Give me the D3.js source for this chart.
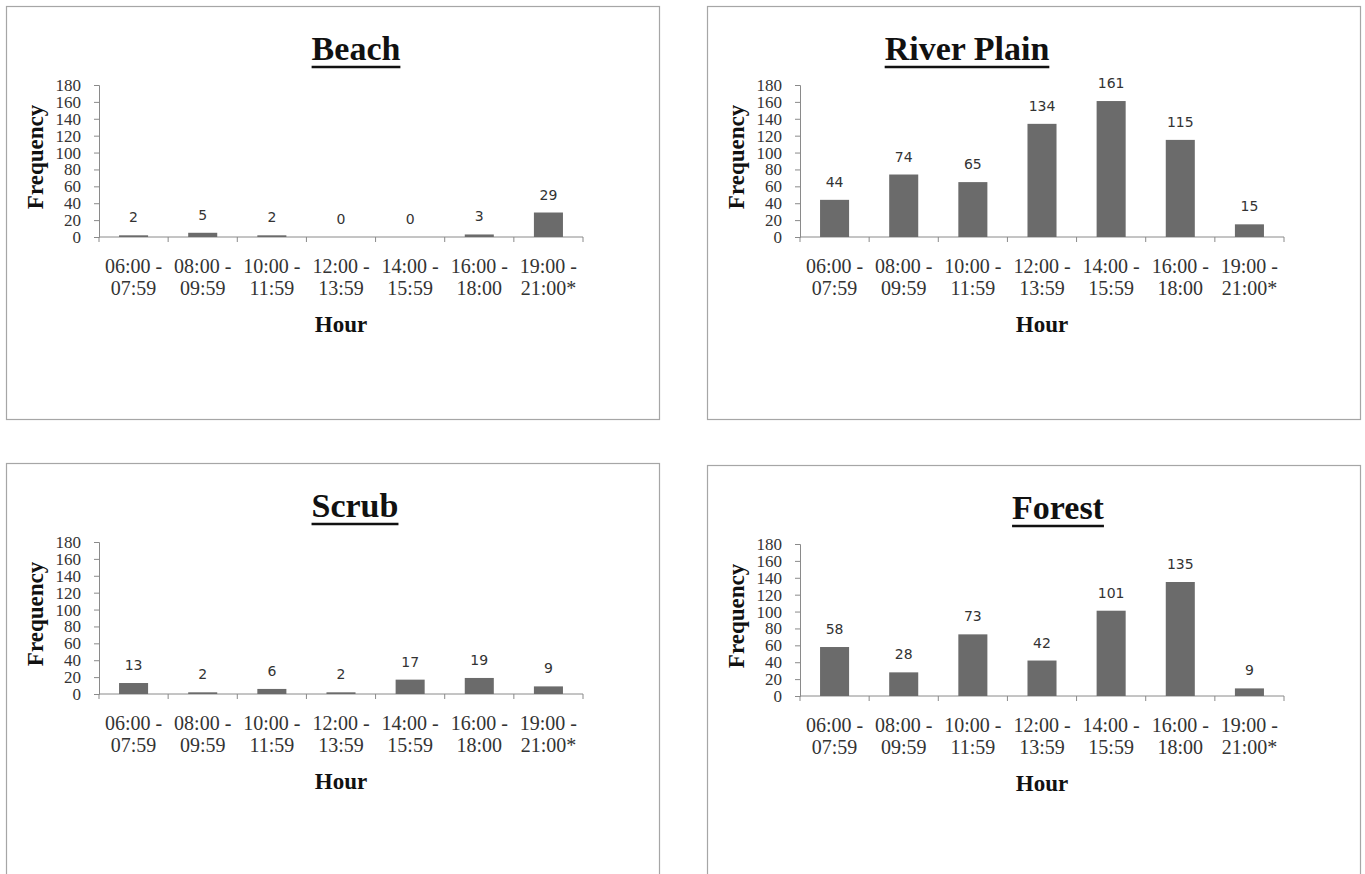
<!DOCTYPE html>
<html>
<head>
<meta charset="utf-8">
<script src="https://cdn.jsdelivr.net/npm/d3@7"></script>
<style>
  html, body { margin: 0; padding: 0; background: #fff; }
  svg { display: block; }
</style>
</head>
<body>
<svg id="chart" width="1365" height="874"></svg>
<script>
// Observation counts per time-of-day slot, by habitat
const hourStart = ["06:00 -", "08:00 -", "10:00 -", "12:00 -", "14:00 -", "16:00 -", "19:00 -"];
const hourEnd   = ["07:59", "09:59", "11:59", "13:59", "15:59", "18:00", "21:00*"];
const habitats  = ["Beach", "River Plain", "Scrub", "Forest"];
const beach      = [2, 5, 2, 0, 0, 3, 29];
const riverPlain = [44, 74, 65, 134, 161, 115, 15];
const scrub      = [13, 2, 6, 2, 17, 19, 9];
const forest     = [58, 28, 73, 42, 101, 135, 9];
const yTicks     = [0, 20, 40, 60, 80, 100, 120, 140, 160, 180];
const yMax = 180;
const xTitle = "Hour";
const yTitle = "Frequency";

const seriesByHabitat = [beach, riverPlain, scrub, forest];

// Panel frames (top-left corners) and title centres within each frame
const panels = [
  { x: 6,   y: 6,   titleX: 350 },
  { x: 707, y: 6,   titleX: 260 },
  { x: 6,   y: 463, titleX: 349 },
  { x: 707, y: 465, titleX: 351 }
];
const panelW = 653, panelH = 413;
const plotLeft = 93, plotBottom = 231, plotTop = 79, plotW = 484;

const serif = "'Liberation Serif', 'Times New Roman', serif";
const sans = "'DejaVu Sans', Verdana, sans-serif";
const axisColor = "#8a8a8a";
const barColor = "#6b6b6b";
const textColor = "#333";

const svg = d3.select("#chart");

habitats.forEach((name, i) => {
  const p = panels[i];
  const values = seriesByHabitat[i];
  const g = svg.append("g").attr("transform", `translate(${p.x},${p.y})`);

  g.append("rect")
    .attr("x", 0.5).attr("y", 0.5)
    .attr("width", panelW).attr("height", panelH)
    .attr("fill", "#fff")
    .attr("stroke", "#a6a6a6").attr("stroke-width", 1.2);

  // Title with underline
  const title = g.append("text")
    .attr("x", p.titleX).attr("y", 54)
    .attr("text-anchor", "middle")
    .attr("font-family", serif)
    .attr("font-weight", "bold")
    .attr("font-size", 34)
    .attr("fill", "#111")
    .text(name);
  const tw = title.node().getComputedTextLength();
  g.append("line")
    .attr("x1", p.titleX - tw / 2).attr("x2", p.titleX + tw / 2)
    .attr("y1", 61).attr("y2", 61)
    .attr("stroke", "#111").attr("stroke-width", 2.6);

  const plot = g.append("g").attr("transform", `translate(${plotLeft},0)`);

  const x = d3.scaleBand()
    .domain(d3.range(values.length))
    .range([0, plotW])
    .paddingInner(0.58)
    .paddingOuter(0.29);
  const step = x.step();

  const y = d3.scaleLinear().domain([0, yMax]).range([plotBottom, plotTop]);

  // Y axis
  const yAxis = plot.append("g")
    .call(d3.axisLeft(y).tickValues(yTicks).tickSize(5).tickPadding(13));
  yAxis.select(".domain").attr("stroke", axisColor);
  yAxis.selectAll(".tick line").attr("stroke", axisColor);
  yAxis.selectAll(".tick text")
    .attr("font-family", serif)
    .attr("font-size", 17)
    .attr("fill", textColor);

  // X axis baseline with category boundary ticks
  plot.append("line")
    .attr("x1", 0).attr("x2", plotW)
    .attr("y1", plotBottom).attr("y2", plotBottom)
    .attr("stroke", axisColor);
  plot.selectAll("line.xtick")
    .data(d3.range(values.length + 1))
    .join("line")
    .attr("class", "xtick")
    .attr("x1", d => d * step).attr("x2", d => d * step)
    .attr("y1", plotBottom).attr("y2", plotBottom + 5)
    .attr("stroke", axisColor);

  // Bars
  plot.selectAll("rect.bar")
    .data(values)
    .join("rect")
    .attr("class", "bar")
    .attr("x", (d, j) => x(j))
    .attr("width", x.bandwidth())
    .attr("y", d => y(d))
    .attr("height", d => plotBottom - y(d))
    .attr("fill", barColor);

  // Value labels
  plot.selectAll("text.val")
    .data(values)
    .join("text")
    .attr("class", "val")
    .attr("x", (d, j) => x(j) + x.bandwidth() / 2)
    .attr("y", d => y(d) - 13)
    .attr("text-anchor", "middle")
    .attr("font-family", sans)
    .attr("font-size", 14)
    .attr("fill", textColor)
    .text(d => d);

  // Category labels (two lines)
  const cat = plot.selectAll("text.cat")
    .data(d3.range(values.length))
    .join("text")
    .attr("class", "cat")
    .attr("text-anchor", "middle")
    .attr("font-family", serif)
    .attr("font-size", 20)
    .attr("fill", textColor);
  cat.append("tspan")
    .attr("x", j => x(j) + x.bandwidth() / 2)
    .attr("y", plotBottom + 36)
    .text(j => hourStart[j]);
  cat.append("tspan")
    .attr("x", j => x(j) + x.bandwidth() / 2)
    .attr("y", plotBottom + 58)
    .text(j => hourEnd[j]);

  // Axis titles
  plot.append("text")
    .attr("x", plotW / 2).attr("y", plotBottom + 95)
    .attr("text-anchor", "middle")
    .attr("font-family", serif)
    .attr("font-weight", "bold")
    .attr("font-size", 23)
    .attr("fill", "#111")
    .text(xTitle);

  g.append("text")
    .attr("transform", `translate(29,${plotBottom - 80}) rotate(-90)`)
    .attr("text-anchor", "middle")
    .attr("dominant-baseline", "central")
    .attr("font-family", serif)
    .attr("font-weight", "bold")
    .attr("font-size", 23)
    .attr("fill", "#111")
    .text(yTitle);
});
</script>
</body>
</html>
